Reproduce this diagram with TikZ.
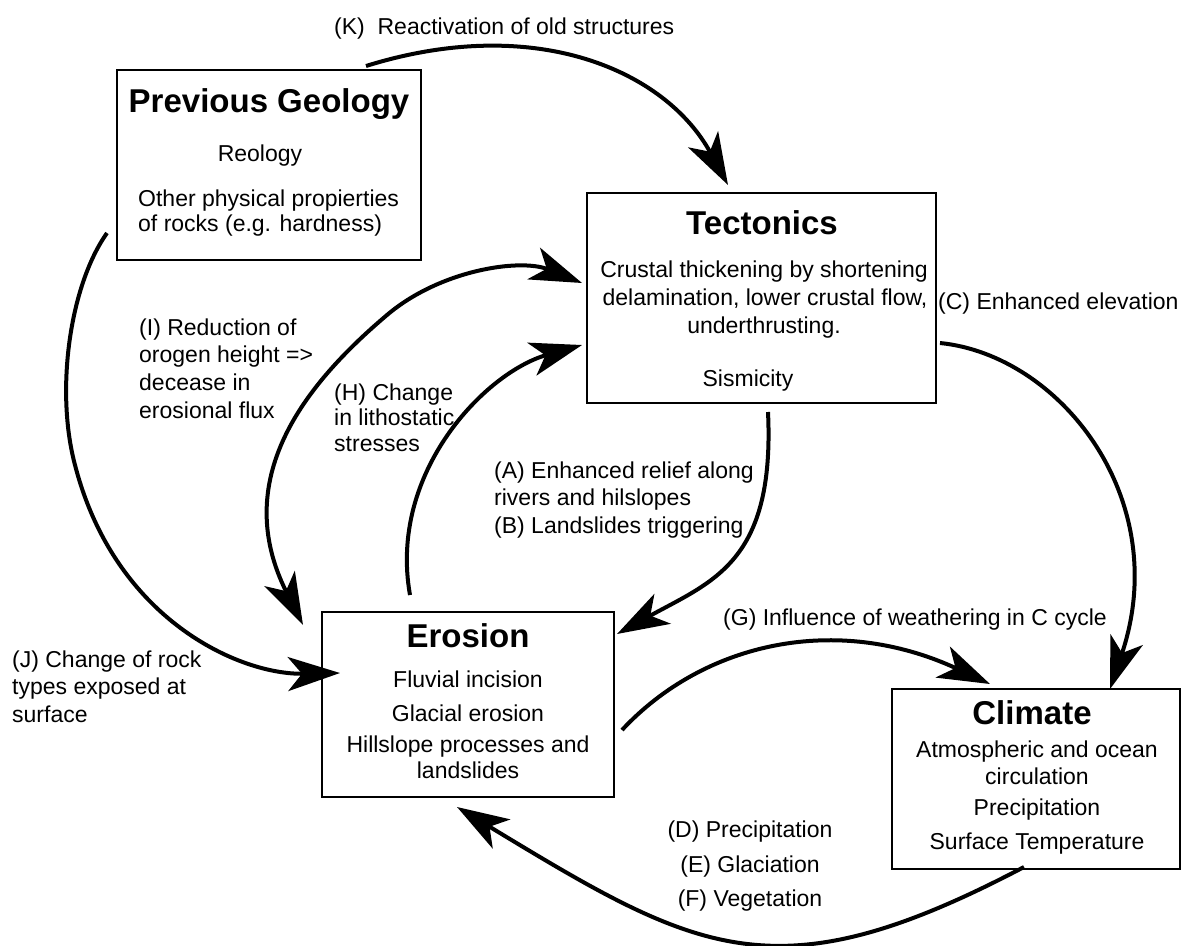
\documentclass[tikz,border=0pt]{standalone}
\usepackage{fontspec}
\setmainfont{Liberation Sans}
\usetikzlibrary{arrows.meta}
\begin{document}
\begin{tikzpicture}[x=1pt,y=-1pt,
  box/.style={draw, line width=2pt, inner sep=0pt},
  txt/.style={font=\fontsize{23}{27}\selectfont, inner sep=0pt, anchor=base},
  txtl/.style={txt, anchor=base west},
  ttl/.style={font=\bfseries\fontsize{33}{38}\selectfont, inner sep=0pt, anchor=base},
  arr/.style={line width=4pt, -{Stealth[length=52pt,width=34pt,inset=14pt]}},
  dbl/.style={line width=4pt, {Stealth[length=52pt,width=34pt,inset=14pt]}-{Stealth[length=52pt,width=34pt,inset=14pt]}}
]
\useasboundingbox[fill=white] (0,0) rectangle (1185,945);

% boxes
\node[box, minimum width=304pt, minimum height=190pt] (pg) at (269,165) {};
\node[box, minimum width=349pt, minimum height=210pt] (tec) at (761.5,298) {};
\node[box, minimum width=292pt, minimum height=185pt] (ero) at (468,704.5) {};
\node[box, minimum width=288pt, minimum height=180pt] (cli) at (1036,779) {};

% Previous Geology
\node[ttl] (pgt) at (269,112) {Previous Geology};
\node[txt] (pg1) at (260,161) {Reology};
\node[txtl] (pg2) at (138,206) {Other physical propierties};
\node[txtl] (pg3) at (138,231) {of rocks (e.g. hardness)};

% Tectonics
\node[ttl] (tect) at (762,234) {Tectonics};
\node[txt] (tec1) at (764,277) {Crustal thickening by shortening};
\node[txt] (tec2) at (765,305) {delamination, lower crustal flow,};
\node[txt] (tec3) at (764,333) {underthrusting.};
\node[txt] (tec4) at (748,386) {Sismicity};

% Erosion
\node[ttl] (erot) at (468,647) {Erosion};
\node[txt] (ero1) at (468,687) {Fluvial incision};
\node[txt] (ero2) at (468,721) {Glacial erosion};
\node[txt] (ero3) at (468,752) {Hillslope processes and};
\node[txt] (ero4) at (468,778) {landslides};

% Climate
\node[ttl] (clit) at (1032,724) {Climate};
\node[txt] (cli1) at (1037,757) {Atmospheric and ocean};
\node[txt] (cli2) at (1037,784) {circulation};
\node[txt] (cli3) at (1037,815) {Precipitation};
\node[txt] (cli4) at (1037,849) {Surface Temperature};

% labels
\node[txtl] (lk) at (334,34) {(K)\ \ Reactivation of old structures};
\node[txtl] (lc) at (938,309) {(C) Enhanced elevation};
\node[txtl] (li1) at (139,335) {(I) Reduction of};
\node[txtl] (li2) at (139,362) {orogen height =>};
\node[txtl] (li3) at (139,390) {decease in};
\node[txtl] (li4) at (139,418) {erosional flux};
\node[txtl] (lh1) at (334,400) {(H) Change};
\node[txtl] (lh2) at (334,425) {in lithostatic};
\node[txtl] (lh3) at (334,451) {stresses};
\node[txtl] (la1) at (494,478) {(A) Enhanced relief along};
\node[txtl] (la2) at (494,505) {rivers and hilslopes};
\node[txtl] (lb) at (494,533) {(B) Landslides triggering};
\node[txtl] (lg) at (723,625) {(G) Influence of weathering in C cycle};
\node[txt] (ld) at (750,837) {(D) Precipitation};
\node[txt] (le) at (750,872) {(E) Glaciation};
\node[txt] (lf) at (750,906) {(F) Vegetation};
\node[txtl] (lj1) at (12,667) {(J) Change of rock};
\node[txtl] (lj2) at (12,694) {types exposed at};
\node[txtl] (lj3) at (12,722) {surface};

% connector end points
\coordinate (k0) at (366,66);   \coordinate (k1) at (728,185);
\coordinate (c0) at (940,343);  \coordinate (c1) at (1110,689);
\coordinate (a0) at (768,412);  \coordinate (a1) at (617,634);
\coordinate (h0) at (410,595);  \coordinate (h1) at (582,345);
\coordinate (i0) at (582,283);  \coordinate (i1) at (303,625);
\coordinate (j0) at (107,233);  \coordinate (j1) at (340,673);
\coordinate (g0) at (622,730);  \coordinate (g1) at (990,684);
\coordinate (d0) at (1024,867); \coordinate (d1) at (457,807);

% connectors
\draw[arr] (k0) .. controls (536,13) and (666,71) .. (k1);
\draw[arr] (c0) .. controls (1060,355) and (1174,499) .. (c1);
\draw[arr] (a0) .. controls (775,562) and (713,581) .. (a1);
\draw[arr] (h0) .. controls (388,472) and (486,372) .. (h1);
\draw[dbl] (i0) .. controls (520,258) and (440,270) .. (387,315)
                .. controls (303,386) and (230,480) .. (i1);
\draw[arr] (j0) .. controls (70,285) and (55,390) .. (75,465)
                .. controls (115,620) and (240,675) .. (j1);
\draw[arr] (g0) .. controls (704,642) and (837,613) .. (g1);
\draw[arr] (d0) .. controls (775,998) and (698,953) .. (d1);
\end{tikzpicture}
\end{document}
